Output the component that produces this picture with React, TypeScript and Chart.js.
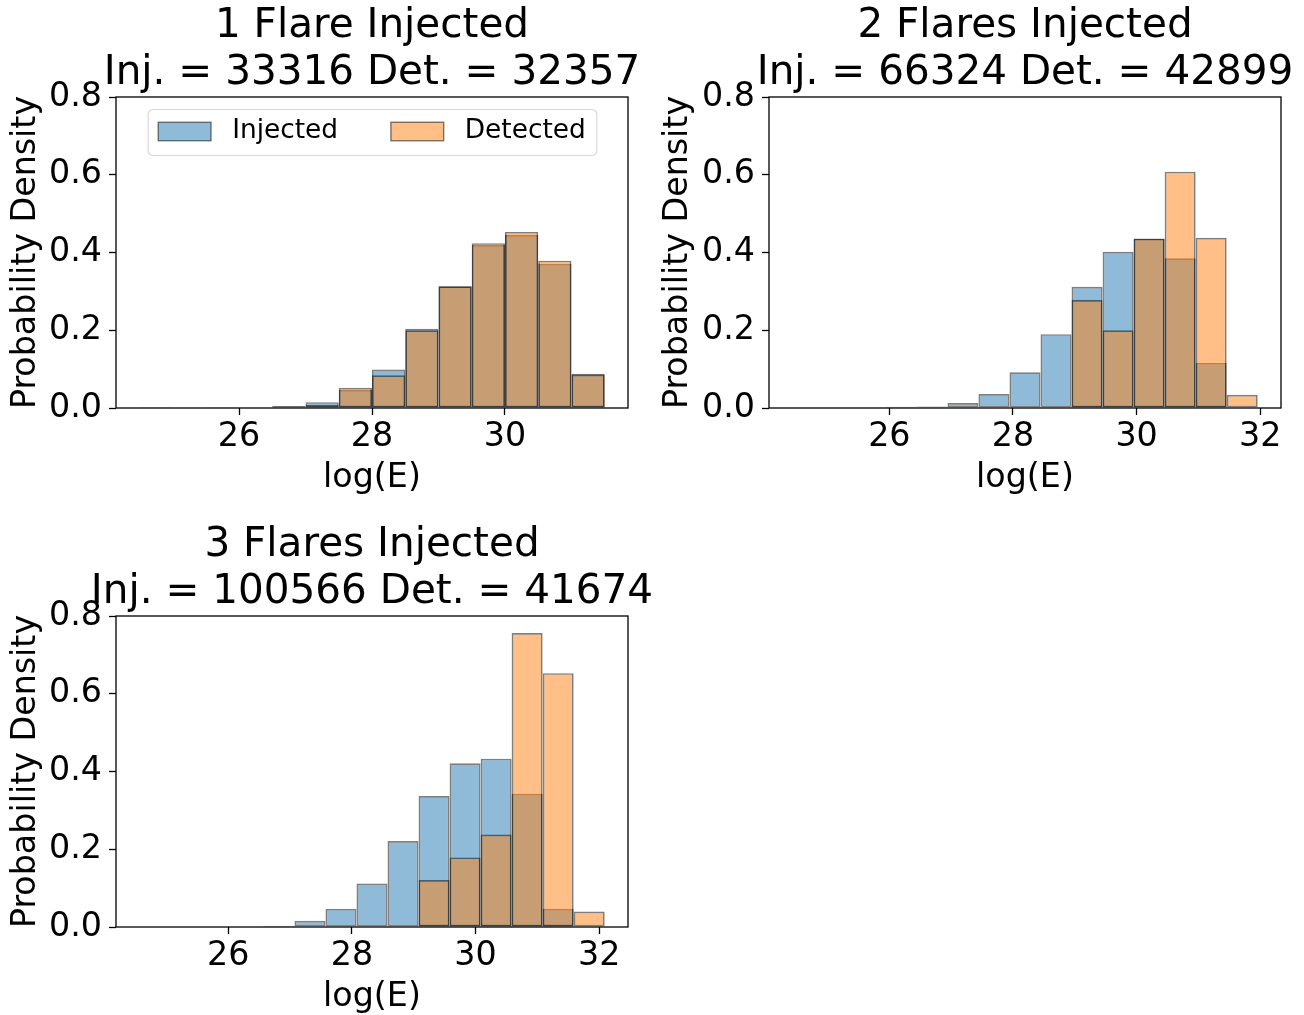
import React, { useEffect, useRef } from 'react';
import { Chart, registerables } from 'chart.js';

Chart.register(...registerables);

const FONT = 'DejaVu Sans';

// ---- Panel 1: 1 flare injected ----
const binEdges1 = [24.5, 25.0, 25.5, 26.0, 26.5, 27.0, 27.5, 28.0, 28.5, 29.0, 29.5, 30.0, 30.5, 31.0, 31.5];
const injected1 = [0.0006, 0, 0.0008, 0.002, 0.005, 0.015, 0.046, 0.099, 0.204, 0.313, 0.419, 0.445, 0.371, 0.088];
const detected1 = [0.0005, 0, 0.0006, 0.0015, 0.004, 0.008, 0.052, 0.084, 0.2, 0.313, 0.424, 0.453, 0.379, 0.086];
const title1 = ['1 Flare Injected', 'Inj. = 33316 Det. = 32357'];
const xRange1 = [24.15, 31.85];

// ---- Panel 2: 2 flares injected ----
const binEdges2 = [24.43, 24.932, 25.434, 25.936, 26.438, 26.94, 27.442, 27.944, 28.446, 28.948, 29.45, 29.952, 30.454, 30.956, 31.458, 31.96];
const injected2 = [0.0005, 0, 0.0005, 0.003, 0.004, 0.013, 0.036, 0.092, 0.19, 0.312, 0.402, 0.435, 0.385, 0.116, 0];
const detected2 = [0, 0, 0, 0, 0, 0, 0, 0, 0.002, 0.278, 0.2, 0.436, 0.608, 0.438, 0.034];
const title2 = ['2 Flares Injected', 'Inj. = 66324 Det. = 42899'];
const xRange2 = [24.053, 32.337];

// ---- Panel 3: 3 flares injected ----
const binEdges3 = [24.56, 25.062, 25.564, 26.066, 26.568, 27.07, 27.572, 28.074, 28.576, 29.078, 29.58, 30.082, 30.584, 31.086, 31.588, 32.09];
const injected3 = [0, 0, 0, 0.001, 0.003, 0.016, 0.047, 0.112, 0.221, 0.337, 0.421, 0.433, 0.343, 0.047, 0];
const detected3 = [0, 0, 0, 0, 0, 0, 0, 0, 0, 0.121, 0.179, 0.238, 0.756, 0.653, 0.04];
const title3 = ['3 Flares Injected', 'Inj. = 100566 Det. = 41674'];
const xRange3 = [24.183, 32.467];

const xTicks1 = [26, 28, 30];
const xTicks23 = [26, 28, 30, 32];
const yTicks = [0, 0.2, 0.4, 0.6, 0.8];
const yRange = [0, 0.8];

const seriesLabels = ['Injected', 'Detected'];
const BLUE_FILL = 'rgba(31,119,180,0.5)';
const ORANGE_FILL = 'rgba(255,127,14,0.5)';
const EDGE = 'rgba(0,0,0,0.5)';

const CANVAS_H = 500;

const TITLE_SIZE = 40.5;
const TITLE_LH = 1.148;

type PanelCfg = {
  left: number;
  top: number;
  areaLeft: number;
  areaRight: number;
  areaTop: number;
  areaBottom: number;
  edges: number[];
  injected: number[];
  detected: number[];
  title: string[];
  xRange: number[];
  xTicks: number[];
  legend: boolean;
};

const panels: PanelCfg[] = [
  { left: 0, top: 0, areaLeft: 116, areaRight: 628, areaTop: 97, areaBottom: 408, edges: binEdges1, injected: injected1, detected: detected1, title: title1, xRange: xRange1, xTicks: xTicks1, legend: true },
  { left: 652, top: 0, areaLeft: 117, areaRight: 629, areaTop: 97, areaBottom: 408, edges: binEdges2, injected: injected2, detected: detected2, title: title2, xRange: xRange2, xTicks: xTicks23, legend: false },
  { left: 0, top: 519, areaLeft: 116, areaRight: 628, areaTop: 97, areaBottom: 408, edges: binEdges3, injected: injected3, detected: detected3, title: title3, xRange: xRange3, xTicks: xTicks23, legend: false },
];

// canvas is made symmetric around the plot centre so the full-width title is centred over the axes
const canvasWidth = (p: PanelCfg) => p.areaLeft + p.areaRight;

const framePlugin = {
  id: 'axesFrame',
  afterDatasetsDraw(chart: any) {
    const { ctx, chartArea: a } = chart;
    ctx.save();
    ctx.strokeStyle = '#000';
    ctx.lineWidth = 1.3;
    ctx.strokeRect(a.left, a.top, a.right - a.left, a.bottom - a.top);
    ctx.restore();
  },
};

const insideLegendPlugin = {
  id: 'insideLegend',
  afterDraw(chart: any, _args: any, opts: any) {
    if (!opts || !opts.show) return;
    const { ctx, chartArea: a } = chart;
    const fs = 26.4;
    const pad = 0.4 * fs;
    const handleLen = 2 * fs;
    const handleH = 0.7 * fs;
    const textPad = 0.8 * fs;
    const colSpace = 2 * fs;
    ctx.save();
    ctx.font = `${fs}px "${FONT}"`;
    const labels: string[] = opts.labels;
    const fills: string[] = opts.fills;
    const widths = labels.map((l) => ctx.measureText(l).width);
    const boxW = 2 * pad + labels.length * (handleLen + textPad) + widths.reduce((s, w) => s + w, 0) + colSpace * (labels.length - 1);
    const boxH = 46;
    const cx = (a.left + a.right) / 2;
    const bx = cx - boxW / 2;
    const by = a.top + 12;
    ctx.beginPath();
    ctx.roundRect(bx + 0.5, by + 0.5, boxW, boxH, 5);
    ctx.fillStyle = 'rgba(255,255,255,0.8)';
    ctx.fill();
    ctx.strokeStyle = 'rgba(204,204,204,0.8)';
    ctx.lineWidth = 1.1;
    ctx.stroke();
    const rowY = by + 22.5;
    let x = bx + pad;
    labels.forEach((label, i) => {
      ctx.fillStyle = fills[i];
      ctx.fillRect(x, rowY - handleH / 2, handleLen, handleH);
      ctx.strokeStyle = EDGE;
      ctx.lineWidth = 1.4;
      ctx.strokeRect(x, rowY - handleH / 2, handleLen, handleH);
      x += handleLen + textPad;
      ctx.fillStyle = '#000';
      ctx.textAlign = 'left';
      ctx.textBaseline = 'middle';
      ctx.fillText(label, x, rowY);
      x += widths[i] + colSpace;
    });
    ctx.restore();
  },
};

function buildConfig(p: PanelCfg): any {
  const W = canvasWidth(p);
  const centers = p.edges.slice(0, -1).map((e, i) => (e + p.edges[i + 1]) / 2);
  const tickFont = { family: FONT, size: 33.3, weight: 'normal' as const, lineHeight: 1.2 };
  const barCommon = {
    borderColor: EDGE,
    borderWidth: 1.7,
    borderSkipped: false,
    inflateAmount: 0,
    grouped: false,
    categoryPercentage: 1,
    barPercentage: 1,
  };
  const titlePadTop = 3.5;
  return {
    type: 'bar',
    data: {
      datasets: [
        {
          ...barCommon,
          label: seriesLabels[0],
          data: centers.map((c, i) => ({ x: c, y: p.injected[i] })),
          backgroundColor: BLUE_FILL,
          order: 1,
        },
        {
          ...barCommon,
          label: seriesLabels[1],
          data: centers.map((c, i) => ({ x: c, y: p.detected[i] })),
          backgroundColor: ORANGE_FILL,
          order: 0,
        },
      ],
    },
    options: {
      responsive: false,
      animation: false,
      events: [],
      layout: { padding: 0 },
      plugins: {
        legend: { display: false },
        tooltip: { enabled: false },
        title: {
          display: true,
          text: p.title,
          fullSize: true,
          color: '#000',
          font: { family: FONT, size: TITLE_SIZE, weight: 'normal', lineHeight: TITLE_LH },
          padding: { top: titlePadTop, bottom: p.areaTop - titlePadTop - 2 * TITLE_SIZE * TITLE_LH },
        },
        insideLegend: { show: p.legend, labels: seriesLabels, fills: [BLUE_FILL, ORANGE_FILL] },
      },
      scales: {
        x: {
          type: 'linear',
          min: p.xRange[0],
          max: p.xRange[1],
          offset: false,
          afterBuildTicks: (s: any) => {
            s.ticks = p.xTicks.map((v) => ({ value: v }));
          },
          afterFit: (s: any) => {
            s.height = CANVAS_H - p.areaBottom;
          },
          ticks: { font: tickFont, color: '#000', padding: 2, maxRotation: 0, autoSkip: false, callback: (v: number) => String(v) },
          grid: { display: true, offset: false, drawOnChartArea: false, drawTicks: true, tickLength: 7, tickWidth: 1.3, tickColor: '#000' },
          border: { display: false },
          title: { display: true, text: 'log(E)', color: '#000', font: tickFont, padding: { top: 0, bottom: 2 } },
        },
        y: {
          type: 'linear',
          position: 'left',
          min: yRange[0],
          max: yRange[1],
          afterBuildTicks: (s: any) => {
            s.ticks = yTicks.map((v) => ({ value: v }));
          },
          afterFit: (s: any) => {
            s.width = p.areaLeft;
          },
          ticks: { font: tickFont, color: '#000', padding: 7, autoSkip: false, callback: (v: number) => v.toFixed(1) },
          grid: { display: true, drawOnChartArea: false, drawTicks: true, tickLength: 7, tickWidth: 1.3, tickColor: '#000' },
          border: { display: false },
          title: { display: true, text: 'Probability Density', color: '#000', font: tickFont, padding: { top: 6, bottom: 0 } },
        },
        // empty right-hand spacer axis: keeps the axes box in place while the canvas stays centred on it
        spacer: {
          type: 'linear',
          position: 'right',
          display: true,
          min: 0,
          max: 1,
          ticks: { display: false },
          grid: { display: false, drawTicks: false },
          border: { display: false },
          title: { display: false },
          afterFit: (s: any) => {
            s.width = W - p.areaRight;
          },
        },
      },
    },
    plugins: [framePlugin, insideLegendPlugin],
  };
}

function Panel({ cfg }: { cfg: PanelCfg }) {
  const ref = useRef<HTMLCanvasElement>(null);
  const W = canvasWidth(cfg);
  useEffect(() => {
    if (!ref.current) return;
    const chart = new Chart(ref.current, buildConfig(cfg));
    return () => chart.destroy();
  }, [cfg]);
  return (
    <canvas
      ref={ref}
      width={W}
      height={CANVAS_H}
      style={{ position: 'absolute', left: cfg.left, top: cfg.top, width: W, height: CANVAS_H }}
    />
  );
}

export default function App() {
  return (
    <div style={{ position: 'absolute', left: 0, top: 0, width: 1304, height: 1015, background: '#fff', overflow: 'hidden' }}>
      {panels.map((p, i) => (
        <Panel key={i} cfg={p} />
      ))}
    </div>
  );
}
